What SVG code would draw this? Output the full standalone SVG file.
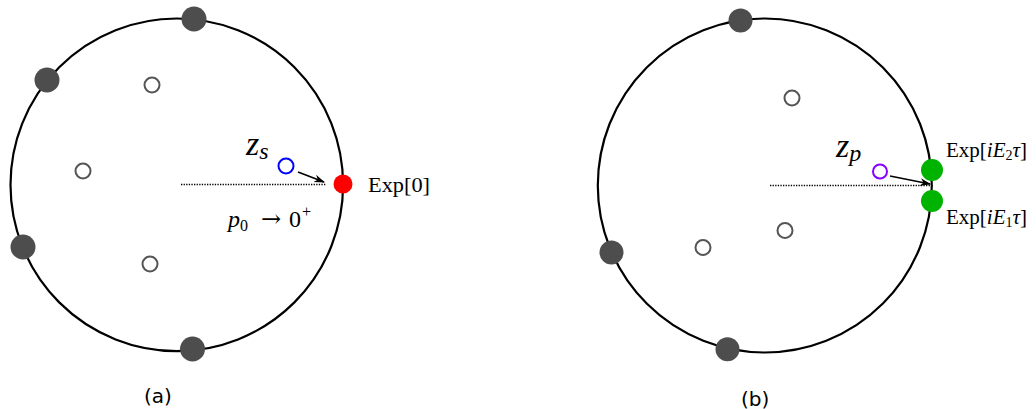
<svg xmlns="http://www.w3.org/2000/svg" width="1036" height="409" viewBox="0 0 1036 409">
<defs>
<style>
.big{fill:none;stroke:#000;stroke-width:2.2}
.pt{fill:#4d4d4d}
.hol{fill:#fff;stroke:#555;stroke-width:2}
.dot{stroke:#000;stroke-width:1.3;stroke-dasharray:1.3 1.3;fill:none}
.arr{stroke:#000;stroke-width:1.6;fill:none;marker-end:url(#ah)}
.m{font-family:"Liberation Serif","DejaVu Serif",serif;fill:#000}
.cap{font-family:"DejaVu Sans","Liberation Sans",sans-serif;font-size:20px;fill:#000}
</style>
<marker id="ah" viewBox="0 0 10 10" refX="9" refY="5" markerWidth="11" markerHeight="11" orient="auto" markerUnits="userSpaceOnUse">
<path d="M0,1.5 L10,5 L0,8.5 L3,5 z" fill="#000"/>
</marker>
</defs>
<g id="panel-a">
<circle class="big" cx="176.8" cy="184.8" r="166.3"/>
<circle class="pt" cx="194" cy="19" r="12.5"/>
<circle class="pt" cx="47" cy="80" r="12.5"/>
<circle class="pt" cx="23" cy="247" r="12.5"/>
<circle class="pt" cx="192.5" cy="349" r="12.5"/>
<circle class="hol" cx="152" cy="85" r="7.5"/>
<circle class="hol" cx="83" cy="171" r="7.5"/>
<circle class="hol" cx="150" cy="264" r="7.5"/>
<circle cx="286" cy="166" r="7.5" fill="#fff" stroke="#0000ff" stroke-width="2"/>
<circle cx="343" cy="184" r="9.5" fill="#ff0000"/>
<text class="m" x="246" y="155" font-size="34" font-style="italic">z<tspan font-size="24" dy="4">s</tspan></text>
<text class="m" x="368" y="192" font-size="22" textLength="62" lengthAdjust="spacingAndGlyphs">Exp[0]</text>
<text class="m" x="228" y="227" font-size="24"><tspan font-style="italic">p</tspan><tspan x="240" dy="4" font-size="16">0</tspan><tspan x="261" dy="-4" font-family="DejaVu Serif" font-size="24">→</tspan><tspan x="289">0</tspan><tspan x="302" dy="-10" font-size="16">+</tspan></text>
</g>
<g id="panel-b">
<circle class="big" cx="764.8" cy="185.5" r="167"/>
<circle class="pt" cx="740.5" cy="20.5" r="12"/>
<circle class="pt" cx="611.5" cy="252.5" r="12"/>
<circle class="pt" cx="727.5" cy="349.3" r="12"/>
<circle class="hol" cx="792" cy="98" r="7.5"/>
<circle class="hol" cx="703" cy="247.5" r="7.5"/>
<circle class="hol" cx="785" cy="230.5" r="7.5"/>
<circle cx="880" cy="171.5" r="7" fill="#fff" stroke="#8800ff" stroke-width="2"/>
<circle cx="932" cy="170" r="11" fill="#00b300"/>
<circle cx="932" cy="201" r="11" fill="#00b300"/>
<text class="m" x="836" y="157" font-size="34" font-style="italic">z<tspan font-size="24" dy="4">p</tspan></text>
<text class="m" x="946" y="157" font-size="21">Exp[<tspan font-style="italic">iE</tspan><tspan font-size="14" dy="3">2</tspan><tspan dy="-3" font-style="italic">τ</tspan>]</text>
<text class="m" x="946" y="224" font-size="21">Exp[<tspan font-style="italic">iE</tspan><tspan font-size="14" dy="3">1</tspan><tspan dy="-3" font-style="italic">τ</tspan>]</text>
</g>
<g id="connectors">
<line class="dot" x1="181" y1="184.5" x2="326" y2="184.5"/>
<line class="arr" x1="298" y1="172" x2="324" y2="182"/>
<line class="dot" x1="770" y1="185.5" x2="932" y2="185.5"/>
<line class="arr" x1="890" y1="176" x2="930" y2="184"/>
</g>
<g id="captions">
<text class="cap" x="144" y="403">(a)</text>
<text class="cap" x="741" y="406">(b)</text>
</g>
</svg>
